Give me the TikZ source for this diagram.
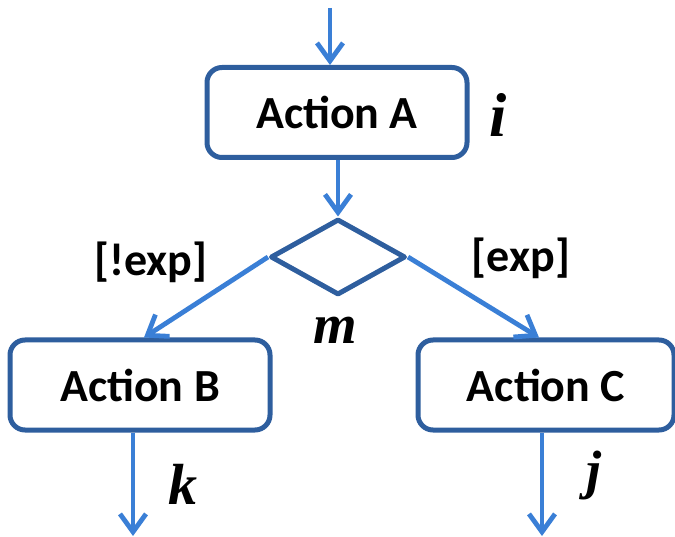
\documentclass[tikz,border=0pt]{standalone}
\usepackage{fontspec}
\setmainfont{Carlito}
\newfontfamily\mathletters{Liberation Serif}
\usetikzlibrary{shapes.geometric,arrows.meta,calc}
\definecolor{boxblue}{HTML}{2E5E9E}
\definecolor{flowblue}{HTML}{3A7FD6}
\tikzset{
  x=1pt, y=-1pt,
  action/.style={draw=boxblue, line width=5pt, rounded corners=15pt, fill=white,
    minimum height=90pt, inner sep=0pt,
    font=\fontsize{46}{50}\selectfont\bfseries},
  decision/.style={draw=boxblue, line width=5pt, diamond, inner sep=0pt,
    minimum width=135pt, minimum height=76pt, line join=round},
  flow/.style={draw=flowblue, line width=4.8pt,
    -{Straight Barb[length=18pt,width=26pt,line width=4.8pt]}},
  guard/.style={font=\fontsize{46}{50}\selectfont\bfseries},
  var/.style={font=\fontsize{#1}{#1}\selectfont\mathletters\bfseries\itshape},
}
\begin{document}
\begin{tikzpicture}
\useasboundingbox (0,0) rectangle (675,537);

% activity nodes
\node[action, minimum width=260pt] (A) at (337,112.5) {Action A};
\node[decision] (D) at (338,257) {};
\node[action, minimum width=260pt] (B) at (140,385) {Action B};
\node[action, minimum width=256pt] (C) at (546,385) {Action C};

% free ends of the incoming and outgoing flows
\coordinate (in) at (330,8);
\coordinate (outB) at (133,536);
\coordinate (outC) at (542,536);

% control flows
\draw[flow] (in) -- (in |- A.north);
\draw[flow] (A.south -| D.north) -- (D.north);
\draw[flow] (D.west) -- ($(B.north)+(4,0)$);
\draw[flow] (D.east) -- ($(C.north)+(-7,0)$);
\draw[flow] (outB |- B.south) -- (outB);
\draw[flow] (outC |- C.south) -- (outC);

% guards and labels
\node[guard] (g1) at (151,262) {[!exp]};
\node[guard] (g2) at (521,258) {[exp]};
\node[var=62] (li) at (498,115) {i};
\node[var=56] (lm) at (335,330) {m};
\node[var=58] (lk) at (183,484) {k};
\node[var=54] (lj) at (594,476) {j};
\end{tikzpicture}
\end{document}
